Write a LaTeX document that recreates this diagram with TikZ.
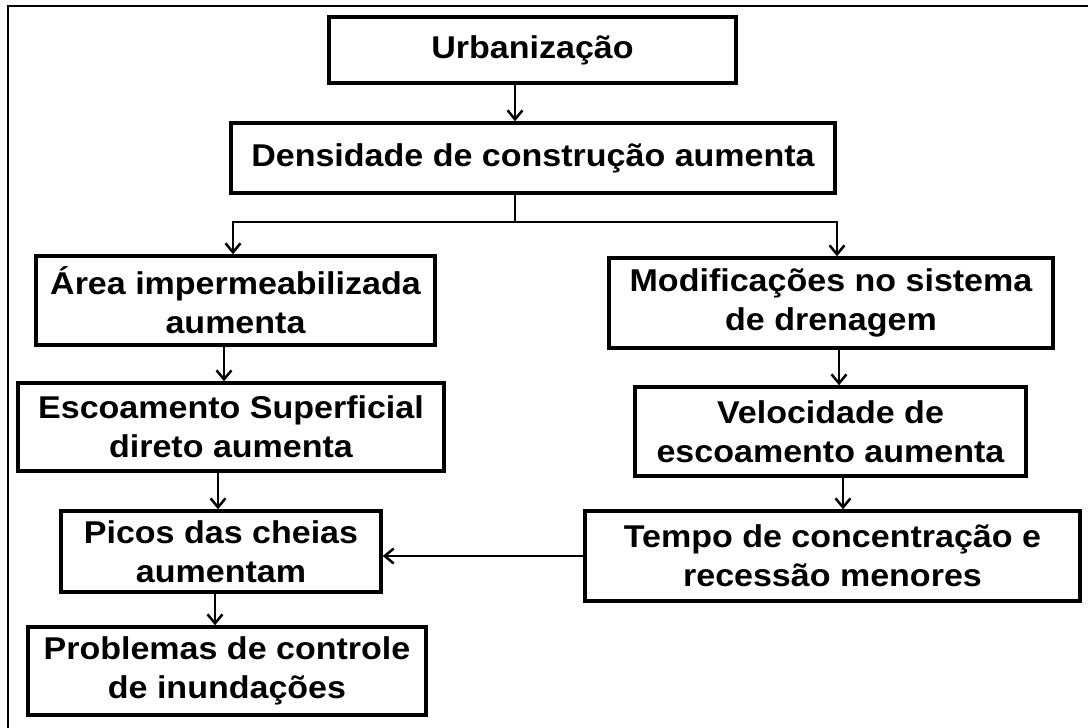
\documentclass[tikz,border=0pt]{standalone}
\usepackage{fontspec}
\setmainfont{Liberation Sans}[FakeStretch=1.08]
\usepackage{tikz}
\usetikzlibrary{arrows.meta}

\begin{document}
\begin{tikzpicture}[x=1pt,y=-1pt,
  caixa/.style={draw, line width=3.5pt, inner sep=0pt, align=center,
    font=\fontsize{31.5}{39}\selectfont\bfseries},
  seta/.style={line width=2.5pt, -{Straight Barb[length=9pt,width=15pt,line width=2.5pt]}}]
\useasboundingbox (0,0) rectangle (1088,728);
\draw [line width=2.5pt] (1092,6) -- (8,6) -- (8,732);

\node [caixa, minimum width=407pt, minimum height=66pt] (urb) at (532.5,50) {Urbaniza\c{c}\~ao};
\node [caixa, minimum width=604pt, minimum height=70pt] (dens) at (533,158) {Densidade de constru\c{c}\~ao aumenta};
\node [caixa, minimum width=399pt, minimum height=89pt] (area) at (235.5,300.5) {\'Area impermeabilizada\\aumenta};
\node [caixa, minimum width=444pt, minimum height=90pt] (modif) at (831,303) {Modifica\c{c}\~oes no sistema\\de drenagem};
\node [caixa, minimum width=426pt, minimum height=88pt] (esc) at (231,427) {Escoamento Superficial\\direto aumenta};
\node [caixa, minimum width=391pt, minimum height=89pt] (veloc) at (830.5,431.5) {Velocidade de\\escoamento aumenta};
\node [caixa, minimum width=320pt, minimum height=81pt] (picos) at (221,551.5) {Picos das cheias\\aumentam};
\node [caixa, minimum width=495pt, minimum height=90pt] (tempo) at (832.5,556) {Tempo de concentra\c{c}\~ao e\\recess\~ao menores};
\node [caixa, minimum width=398pt, minimum height=88pt] (probl) at (227,671) {Problemas de controle\\de inunda\c{c}\~oes};

\draw [seta] ([xshift=-17.5pt]urb.south) -- ([xshift=-17.5pt]urb.south |- dens.north);
\draw [seta] ([xshift=-18pt]dens.south) -- ++(0,27) -| ([xshift=-2.5pt]area.north);
\draw [seta] ([xshift=-18pt]dens.south) -- ++(0,27) -| ([xshift=6pt]modif.north);
\draw [seta] ([xshift=-11.5pt]area.south) -- ([xshift=-11.5pt]area.south |- esc.north);
\draw [seta] ([xshift=-13pt]esc.south) -- ([xshift=-13pt]esc.south |- picos.north);
\draw [seta] ([xshift=-6pt]picos.south) -- ([xshift=-6pt]picos.south |- probl.north);
\draw [seta] ([xshift=8pt]modif.south) -- ([xshift=8pt]modif.south |- veloc.north);
\draw [seta] ([xshift=12.5pt]veloc.south) -- ([xshift=12.5pt]veloc.south |- tempo.north);
\draw [seta] (tempo.west) -- (tempo.west -| picos.east);

\end{tikzpicture}
\end{document}
